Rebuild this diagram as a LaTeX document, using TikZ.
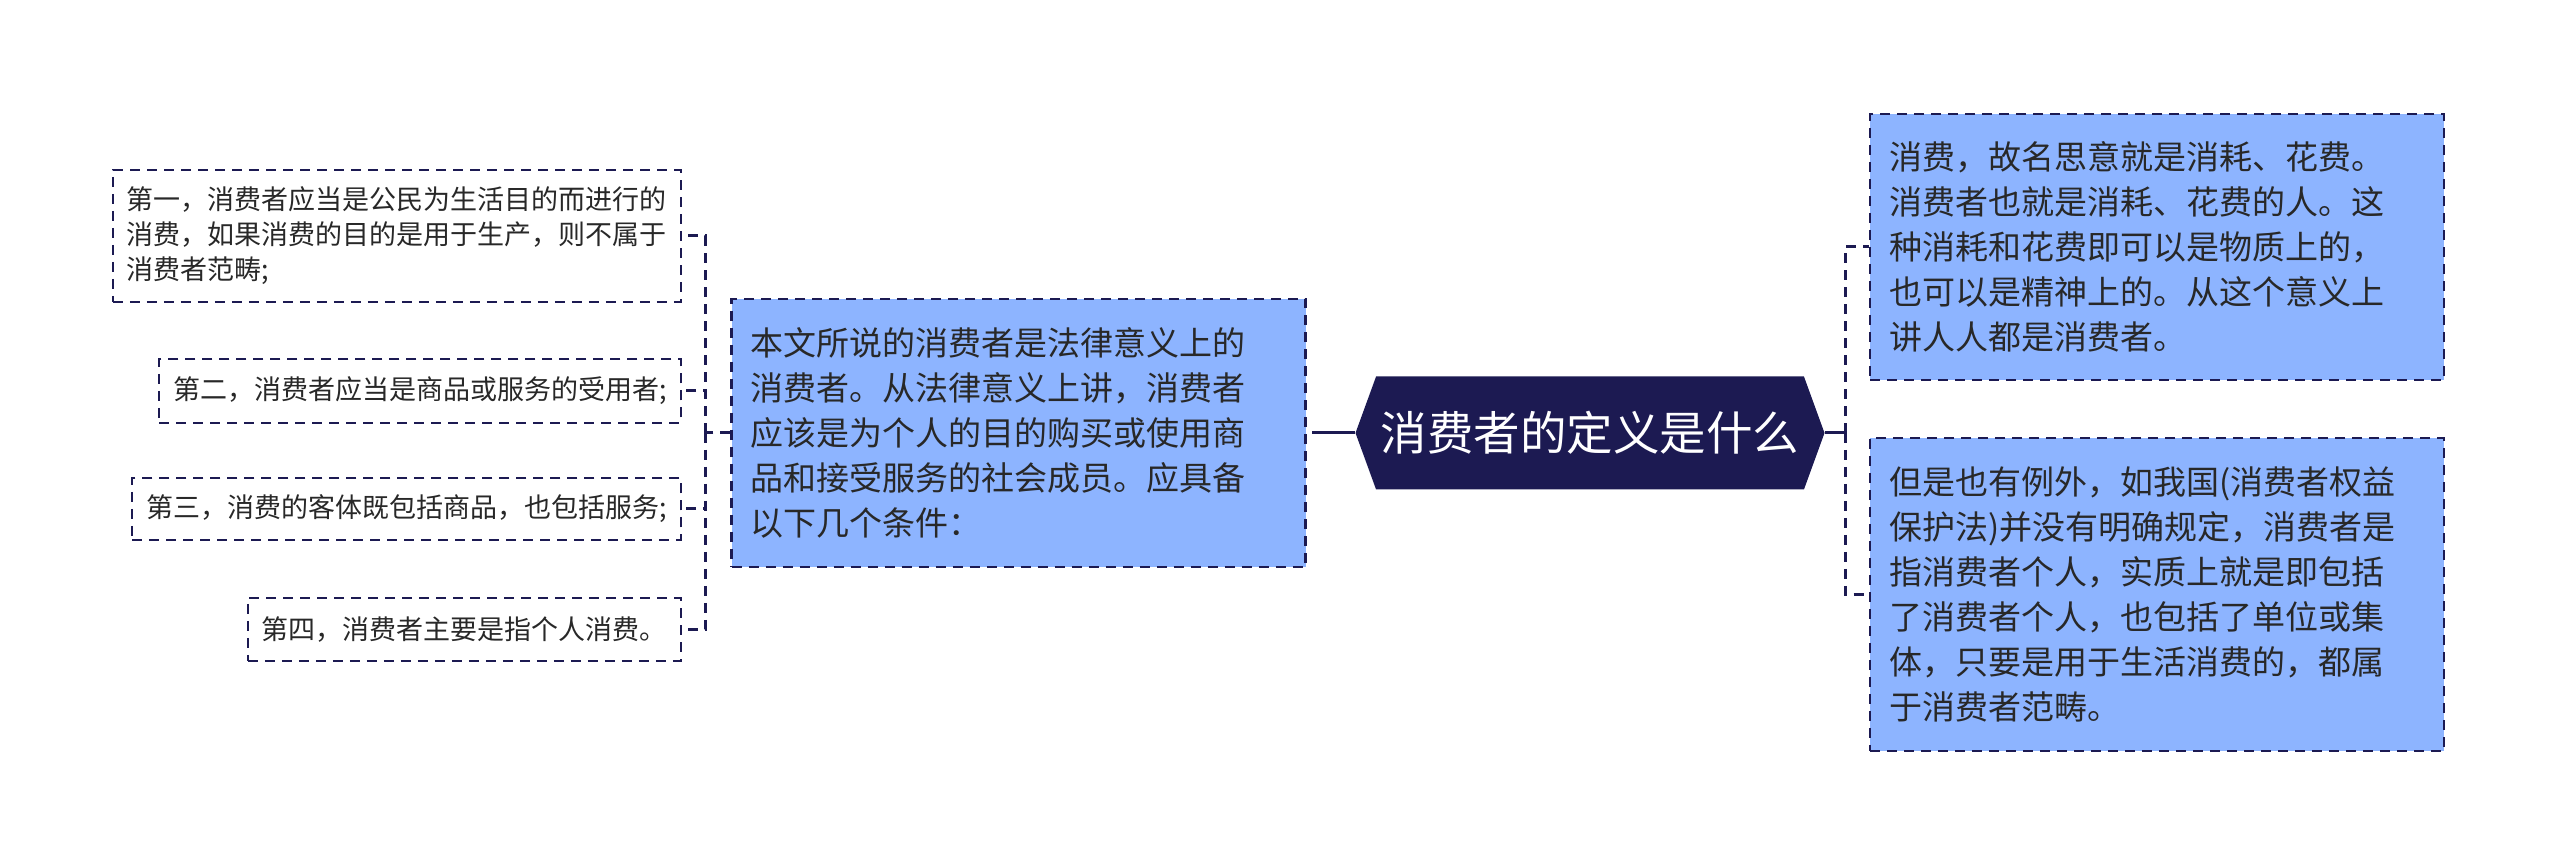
\documentclass[tikz,border=0pt]{standalone}
\usepackage{fontspec}
\setmainfont{Noto Sans CJK SC}
\usetikzlibrary{shapes.symbols}
\definecolor{navy}{RGB}{28,26,82}
\definecolor{leafblue}{RGB}{141,180,255}
\definecolor{inkgray}{RGB}{40,40,40}
\tikzset{
  boxline/.style={draw=navy, line width=2.5pt, dash pattern=on 10pt off 7pt},
  topic/.style={shape=signal, signal to=west and east, signal pointer angle=140,
    fill=navy, text=white, minimum width=469pt, minimum height=113pt,
    inner xsep=0pt, font=\fontsize{46.5pt}{50pt}\selectfont},
  bluebox/.style={boxline, fill=leafblue, text=inkgray, align=left, text width=536pt,
    inner xsep=19pt, inner ysep=0pt, font=\fontsize{33pt}{45pt}\selectfont},
  leafbox/.style={boxline, text=inkgray, align=left, inner xsep=14pt, inner ysep=0pt,
    anchor=east, font=\fontsize{27pt}{35pt}\selectfont},
  dashlink/.style={draw=navy, line width=3pt, dash pattern=on 10pt off 7pt},
  solidlink/.style={draw=navy, line width=3pt},
}
\begin{document}
\begin{tikzpicture}[x=1pt,y=1pt]
\useasboundingbox (0,0) rectangle (2560,867);

\node[topic] (topic) at (1590,434) {消费者的定义是什么};

\node[bluebox, minimum height=268pt] (M) at (1018.5,434) {本文所说的消费者是法律意义上的\\消费者。从法律意义上讲，消费者\\应该是为个人的目的购买或使用商\\品和接受服务的社会成员。应具备\\以下几个条件：};

\node[bluebox, minimum height=266pt] (R1) at (2157,620) {消费，故名思意就是消耗、花费。\\消费者也就是消耗、花费的人。这\\种消耗和花费即可以是物质上的，\\也可以是精神上的。从这个意义上\\讲人人都是消费者。};
\node[bluebox, minimum height=313pt] (R2) at (2157,272.5) {但是也有例外，如我国(消费者权益\\保护法)并没有明确规定，消费者是\\指消费者个人，实质上就是即包括\\了消费者个人，也包括了单位或集\\体，只要是用于生活消费的，都属\\于消费者范畴。};

\node[leafbox, minimum height=132pt] (L1) at (682,631) {第一，消费者应当是公民为生活目的而进行的\\消费，如果消费的目的是用于生产，则不属于\\消费者范畴;};
\node[leafbox, minimum height=64pt] (L2) at (682,476) {第二，消费者应当是商品或服务的受用者;};
\node[leafbox, minimum height=62pt] (L3) at (682,358) {第三，消费的客体既包括商品，也包括服务;};
\node[leafbox, minimum height=63pt] (L4) at (682,237.5) {第四，消费者主要是指个人消费。};

\coordinate (ljoint) at (705,434);
\coordinate (mjoint) at (1322,434);
\coordinate (rjoint) at (1845,434);

\draw[solidlink] (topic.east) -- (rjoint);
\draw[dashlink] (rjoint) |- (R1.west);
\draw[dashlink] (rjoint) |- (R2.west);
\draw[solidlink] (topic.west) -- (mjoint);
\draw[dashlink] (mjoint) -- (M.east);
\draw[dashlink] (M.west) -- (ljoint);
\foreach \leaf in {L1,L2,L3,L4}
  \draw[dashlink] (ljoint) |- (\leaf.east);
\end{tikzpicture}
\end{document}
